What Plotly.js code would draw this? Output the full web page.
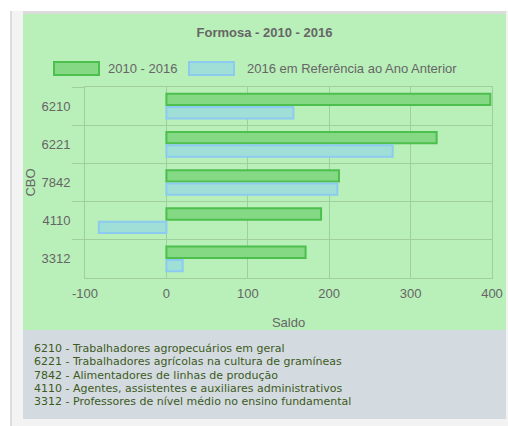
<!DOCTYPE html>
<html>
<head>
<meta charset="utf-8">
<script src="https://cdn.plot.ly/plotly-3.0.1.min.js"></script>
<style>
  html, body { margin: 0; padding: 0; background: #ffffff; width: 508px; height: 426px; overflow: hidden; }
  #outer { position: absolute; left: 10px; top: 11px; width: 496px; height: 415px; background: #f3f3f3; border-left: 2px solid #dcdcdc; }
  #topband { position: absolute; left: 23px; top: 11px; width: 483px; height: 3px; background: #dcdcdc; }
  #chart { position: absolute; left: 23px; top: 14px; width: 483px; height: 316px; }
  #notes { position: absolute; left: 23px; top: 330px; width: 483px; height: 89px; background: #d3dae0;
           font-family: "DejaVu Sans", Verdana, sans-serif; font-size: 11px; line-height: 13.3px; color: #3d5a1c; }
  #notes div { padding-left: 11px; white-space: nowrap; }
  #notes .first { margin-top: 12px; }
</style>
</head>
<body>
<div id="outer"></div>
<div id="topband"></div>
<div id="chart"></div>
<div id="notes"></div>
<script>
const categories = ['6210', '6221', '7842', '4110', '3312'];
const seriesNames = ['2010 - 2016', '2016 em Referência ao Ano Anterior'];
const values2010_2016 = [398, 332, 212, 190, 171];
const values2016Ref = [156, 278, 210, -83, 20];
const descriptions = [
  'Trabalhadores agropecuários em geral',
  'Trabalhadores agrícolas na cultura de gramíneas',
  'Alimentadores de linhas de produção',
  'Agentes, assistentes e auxiliares administrativos',
  'Professores de nível médio no ensino fundamental'
];
const xTickValues = [-100, 0, 100, 200, 300, 400];

const notes = document.getElementById('notes');
categories.forEach((c, i) => {
  const d = document.createElement('div');
  if (i === 0) d.className = 'first';
  d.textContent = c + ' - ' + descriptions[i];
  notes.appendChild(d);
});

const green = { fill: '#85d985', line: '#4dbf4d' };
const blue = { fill: '#a0dfd8', line: '#8ccaf0' };
const grid = '#9fcf9f';
const font = 'Liberation Sans, Arial, sans-serif';

const traces = [
  { type: 'bar', orientation: 'h', name: seriesNames[0], y: categories, x: values2010_2016,
    marker: { color: green.fill, line: { color: green.line, width: 2 } }, showlegend: false },
  { type: 'bar', orientation: 'h', name: seriesNames[1], y: categories, x: values2016Ref,
    marker: { color: blue.fill, line: { color: blue.line, width: 2 } }, showlegend: false }
];

// plot area: x 85..492, y 87..278 (page coords); chart div origin at (23,14)
const PL = 85, PR = 492, PT = 87, PB = 278;
const px = x => (x - PL) / (PR - PL);
const py = y => (PB - y) / (PB - PT);

const legendItems = [
  { x0: 53, x1: 100, tx: 106, c: green, label: seriesNames[0] },
  { x0: 188, x1: 235, tx: 245, c: blue, label: seriesNames[1] }
];
const shapes = legendItems.map(it => ({
  type: 'rect', xref: 'paper', yref: 'paper',
  x0: px(it.x0 + 1), x1: px(it.x1 - 1), y0: py(75), y1: py(62),
  fillcolor: it.c.fill, line: { color: it.c.line, width: 2 }
}));
const annotations = legendItems.map(it => ({
  xref: 'paper', yref: 'paper', x: px(it.tx), y: py(68.5), xanchor: 'left', yanchor: 'middle',
  text: it.label, showarrow: false, font: { family: font, size: 13, color: '#666666' }
}));

const layout = {
  width: 483, height: 316,
  paper_bgcolor: '#b9efb9', plot_bgcolor: '#b9efb9',
  margin: { l: PL - 23, r: 506 - PR, t: PT - 14, b: 330 - PB, pad: 0 },
  barmode: 'group', bargap: 0.3, bargroupgap: 0.15,
  title: { text: '<b>Formosa - 2010 - 2016</b>', x: 0.5, xanchor: 'center',
           yref: 'container', y: 1 - 18 / 316, yanchor: 'middle',
           font: { family: font, size: 13, color: '#666666' } },
  xaxis: {
    range: [-100, 400], tickvals: xTickValues, ticktext: xTickValues.map(String),
    showgrid: true, gridcolor: grid, gridwidth: 1, zeroline: true, zerolinecolor: grid, zerolinewidth: 1,
    showline: true, linecolor: grid, linewidth: 1, mirror: true,
    ticks: '', ticklabelstandoff: 3, tickfont: { family: font, size: 13, color: '#666666' },
    title: { text: 'Saldo', font: { family: font, size: 13, color: '#666666' }, standoff: 19 }
  },
  yaxis: {
    type: 'category', autorange: 'reversed', tickson: 'boundaries',
    ticks: 'outside', ticklen: 12, tickcolor: grid, tickwidth: 1, ticklabelstandoff: 11,
    showgrid: true, gridcolor: grid, gridwidth: 1, zeroline: false,
    showline: true, linecolor: grid, linewidth: 1, mirror: true,
    tickfont: { family: font, size: 13, color: '#666666' },
    title: { text: 'CBO', font: { family: font, size: 13, color: '#666666' }, standoff: 4 }
  },
  shapes: shapes,
  annotations: annotations,
  showlegend: false
};

Plotly.newPlot('chart', traces, layout, { displayModeBar: false, staticPlot: true });
</script>
</body>
</html>
